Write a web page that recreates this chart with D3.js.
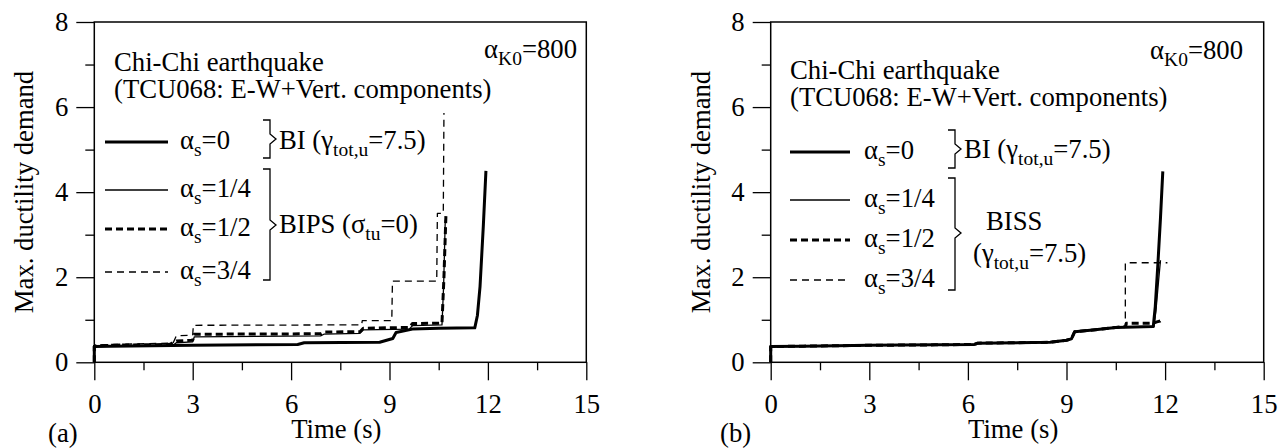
<!DOCTYPE html>
<html>
<head>
<meta charset="utf-8">
<script src="https://cdn.jsdelivr.net/npm/d3@7/dist/d3.min.js"></script>
<style>
  body { margin: 0; background: #fff; }
  svg text { font-family: "Liberation Serif", "Times New Roman", Times, "DejaVu Serif", serif !important; fill: #000; }
</style>
</head>
<body>
<div class="chart"></div>
<script>
// Axis ticks
var xTicks = [0, 3, 6, 9, 12, 15];
var xMinor = [1.5, 4.5, 7.5, 10.5, 13.5];
var yTicks = [0, 2, 4, 6, 8];
var yMinor = [1, 3, 5, 7];

// Panel (a) - BI / BIPS
var timeA0 = [0, 0, 0.5, 3, 6.2, 6.4, 8.7, 9.1, 9.2, 9.7, 10.5, 11.6, 11.68, 11.76, 11.86, 11.94];
var ductA0 = [0, 0.37, 0.38, 0.40, 0.42, 0.46, 0.47, 0.56, 0.70, 0.78, 0.80, 0.81, 1.1, 1.78, 3.2, 4.5];

var timeA1 = [0, 0, 0.5, 2.4, 2.5, 3.0, 3.05, 6.9, 7.0, 8.1, 8.2, 9.6, 9.7, 10.6, 10.65, 10.7];
var ductA1 = [0, 0.37, 0.39, 0.40, 0.46, 0.48, 0.60, 0.62, 0.66, 0.68, 0.76, 0.78, 0.86, 0.88, 1.8, 3.35];

var timeA2 = [0, 0, 0.5, 2.3, 2.5, 3.0, 3.05, 6.9, 7.0, 8.1, 8.2, 9.6, 9.7, 10.6, 10.66, 10.72];
var ductA2 = [0, 0.38, 0.40, 0.42, 0.50, 0.52, 0.66, 0.67, 0.71, 0.72, 0.80, 0.82, 0.91, 0.92, 2.0, 3.45];

var timeA3 = [0, 0, 0.5, 2.4, 2.5, 3.0, 3.02, 8.15, 8.17, 9.07, 9.09, 10.44, 10.46, 10.64, 10.66];
var ductA3 = [0, 0.40, 0.42, 0.45, 0.62, 0.64, 0.87, 0.88, 0.98, 0.98, 1.91, 1.91, 3.5, 3.5, 5.86];

// Panel (b) - BI / BISS
var timeB0 = [0, 0, 1, 3, 5, 6.2, 6.3, 8.5, 9.0, 9.15, 9.25, 9.8, 10.5, 11.64, 11.7, 11.78, 11.86, 11.93];
var ductB0 = [0, 0.37, 0.38, 0.40, 0.41, 0.42, 0.45, 0.47, 0.52, 0.55, 0.72, 0.76, 0.82, 0.84, 1.3, 2.3, 3.4, 4.49];

var timeB1 = [0, 0, 1, 3, 5, 6.2, 6.3, 8.5, 9.0, 9.15, 9.25, 9.8, 10.5, 11.66, 11.72, 11.8, 11.86];
var ductB1 = [0, 0.37, 0.38, 0.40, 0.41, 0.42, 0.45, 0.47, 0.52, 0.55, 0.72, 0.76, 0.82, 0.84, 1.2, 1.9, 2.4];

var timeB2 = [0, 0, 1, 3, 5, 6.2, 6.3, 8.5, 9.0, 9.15, 9.25, 9.8, 10.5, 10.8, 10.82, 11.64, 11.75, 11.85, 11.95];
var ductB2 = [0, 0.37, 0.38, 0.40, 0.41, 0.42, 0.45, 0.47, 0.52, 0.55, 0.72, 0.76, 0.82, 0.84, 0.92, 0.92, 0.95, 0.97, 1.03];

var timeB3 = [0, 0, 1, 3, 5, 6.2, 6.3, 8.5, 9.0, 9.15, 9.25, 9.8, 10.5, 10.79, 10.79, 12.07];
var ductB3 = [0, 0.37, 0.38, 0.40, 0.41, 0.42, 0.45, 0.47, 0.52, 0.55, 0.72, 0.76, 0.82, 0.84, 2.34, 2.34];

// Legend labels
var alphaLabels = ["0", "1/4", "1/2", "3/4"];

// Line styles for the four alpha_s values
var styles = [
  { width: 3, dash: null },
  { width: 1.3, dash: null },
  { width: 3, dash: "7,4" },
  { width: 1.3, dash: "7,5" }
];

var serif = "'Liberation Serif', 'Times New Roman', Times, 'DejaVu Serif', serif";
var fontSize = 26.7;
var subSize = 19.5;

var svgWidth = 1288;
var svgHeight = 448;

var svg = d3.select(".chart")
  .append("svg")
  .attr("width", svgWidth)
  .attr("height", svgHeight)
  .attr("font-family", serif);

var plotTop = 22;
var plotBottom = 362.3;

var yScale = d3.scaleLinear().domain([0, 8]).range([plotBottom, plotTop]);

// plain text label
function label(g, x, y, str, anchor) {
  return g.append("text")
    .attr("x", x)
    .attr("y", y)
    .attr("font-family", serif)
    .attr("font-size", fontSize)
    .attr("text-anchor", anchor || "start")
    .text(str);
}

// write text with subscripts: parts = [[str, isSub], ...]
function richText(g, x, y, parts, anchor) {
  var t = g.append("text")
    .attr("x", x)
    .attr("y", y)
    .attr("font-family", serif)
    .attr("font-size", fontSize)
    .attr("text-anchor", anchor || "start");
  var shifted = false;
  parts.forEach(function(p) {
    var span = t.append("tspan").text(p[0]);
    if (p[1]) {
      span.attr("font-size", subSize);
      if (!shifted) span.attr("dy", 7);
      shifted = true;
    } else {
      if (shifted) span.attr("dy", -7);
      shifted = false;
    }
  });
  return t;
}

function bracket(g, x, top, bottom, mid) {
  var path = d3.path();
  path.moveTo(x - 7, top);
  path.lineTo(x, top);
  path.lineTo(x, mid - 5);
  path.lineTo(x + 6, mid);
  path.lineTo(x, mid + 5);
  path.lineTo(x, bottom);
  path.lineTo(x - 7, bottom);
  g.append("path")
    .attr("d", path.toString())
    .attr("fill", "none")
    .attr("stroke", "#000")
    .attr("stroke-width", 1.3);
}

function drawPanel(left, right, times, ducts) {
  var xScale = d3.scaleLinear().domain([0, 15]).range([left, right]);
  var g = svg.append("g");

  var line = d3.line()
    .x(d => xScale(d[0]))
    .y(d => yScale(d[1]));

  // thin ones first so the thick lines sit on top
  [3, 1, 2, 0].forEach(function(i) {
    var pts = d3.zip(times[i], ducts[i]);
    g.append("path")
      .datum(pts)
      .attr("d", line)
      .attr("fill", "none")
      .attr("stroke", "#000")
      .attr("stroke-width", styles[i].width)
      .attr("stroke-dasharray", styles[i].dash)
      .attr("stroke-linejoin", "round");
  });

  // frame
  g.append("rect")
    .attr("x", left)
    .attr("y", plotTop)
    .attr("width", right - left)
    .attr("height", plotBottom - plotTop)
    .attr("fill", "none")
    .attr("stroke", "#000")
    .attr("stroke-width", 1.5);

  // x axis
  var xAxis = g.append("g")
    .attr("transform", `translate(0, ${plotBottom})`)
    .call(d3.axisBottom(xScale).tickValues(xTicks).tickSize(18).tickPadding(14).tickFormat(d3.format("d")));
  xAxis.append("g")
    .call(d3.axisBottom(xScale).tickValues(xMinor).tickSize(8).tickFormat(""));

  // y axis
  var yAxis = g.append("g")
    .attr("transform", `translate(${left}, 0)`)
    .call(d3.axisLeft(yScale).tickValues(yTicks).tickSize(18).tickPadding(8).tickFormat(d3.format("d")));
  yAxis.append("g")
    .call(d3.axisLeft(yScale).tickValues(yMinor).tickSize(9).tickFormat(""));

  g.selectAll(".domain").remove();
  g.selectAll("g").attr("font-family", serif).attr("font-size", fontSize);
  g.selectAll(".tick line").attr("stroke", "#000").attr("stroke-width", 1.3);
  g.selectAll(".tick text").attr("fill", "#000");

  // axis titles
  g.append("text")
    .attr("transform", `translate(${left - 61}, 192) rotate(-90)`)
    .attr("text-anchor", "middle")
    .attr("font-family", serif)
    .attr("font-size", fontSize)
    .text("Max. ductility demand");

  label(g, (left + right) / 2 - 4, 438, "Time (s)", "middle");

  return g;
}

// Panel (a)
var gA = drawPanel(94.3, 586.3,
  [timeA0, timeA1, timeA2, timeA3],
  [ductA0, ductA1, ductA2, ductA3]);

label(gA, 48, 442, "(a)");
label(gA, 114, 71, "Chi-Chi earthquake");
label(gA, 114, 98, "(TCU068: E-W+Vert. components)");
richText(gA, 577, 58, [["\u03b1", false], ["K0", true], ["=800", false]], "end");

var rowsA = [142, 190, 229, 272];
rowsA.forEach(function(y, i) {
  gA.append("line")
    .attr("x1", 105).attr("x2", 168)
    .attr("y1", y).attr("y2", y)
    .attr("stroke", "#000")
    .attr("stroke-width", styles[i].width)
    .attr("stroke-dasharray", styles[i].dash);
  richText(gA, 180, y + 7, [["\u03b1", false], ["s", true], ["=" + alphaLabels[i], false]]);
});
bracket(gA, 270, 120, 158, 139);
bracket(gA, 270, 169, 280, 225);
richText(gA, 279, 149, [["BI (\u03b3", false], ["tot,u", true], ["=7.5)", false]]);
richText(gA, 279, 233, [["BIPS (\u03c3", false], ["tu", true], ["=0)", false]]);

// Panel (b)
var gB = drawPanel(770.7, 1263.7,
  [timeB0, timeB1, timeB2, timeB3],
  [ductB0, ductB1, ductB2, ductB3]);

label(gB, 720, 442, "(b)");
label(gB, 790, 79, "Chi-Chi earthquake");
label(gB, 790, 106, "(TCU068: E-W+Vert. components)");
richText(gB, 1243, 59, [["\u03b1", false], ["K0", true], ["=800", false]], "end");

var rowsB = [152, 200, 240, 280];
rowsB.forEach(function(y, i) {
  gB.append("line")
    .attr("x1", 790).attr("x2", 850)
    .attr("y1", y).attr("y2", y)
    .attr("stroke", "#000")
    .attr("stroke-width", styles[i].width)
    .attr("stroke-dasharray", styles[i].dash);
  richText(gB, 864, y + 7, [["\u03b1", false], ["s", true], ["=" + alphaLabels[i], false]]);
});
bracket(gB, 955, 130, 168, 149);
bracket(gB, 955, 178, 290, 233);
richText(gB, 964, 158, [["BI (\u03b3", false], ["tot,u", true], ["=7.5)", false]]);
richText(gB, 986, 230, [["BISS", false]]);
richText(gB, 973, 262, [["(\u03b3", false], ["tot,u", true], ["=7.5)", false]]);
</script>
</body>
</html>
